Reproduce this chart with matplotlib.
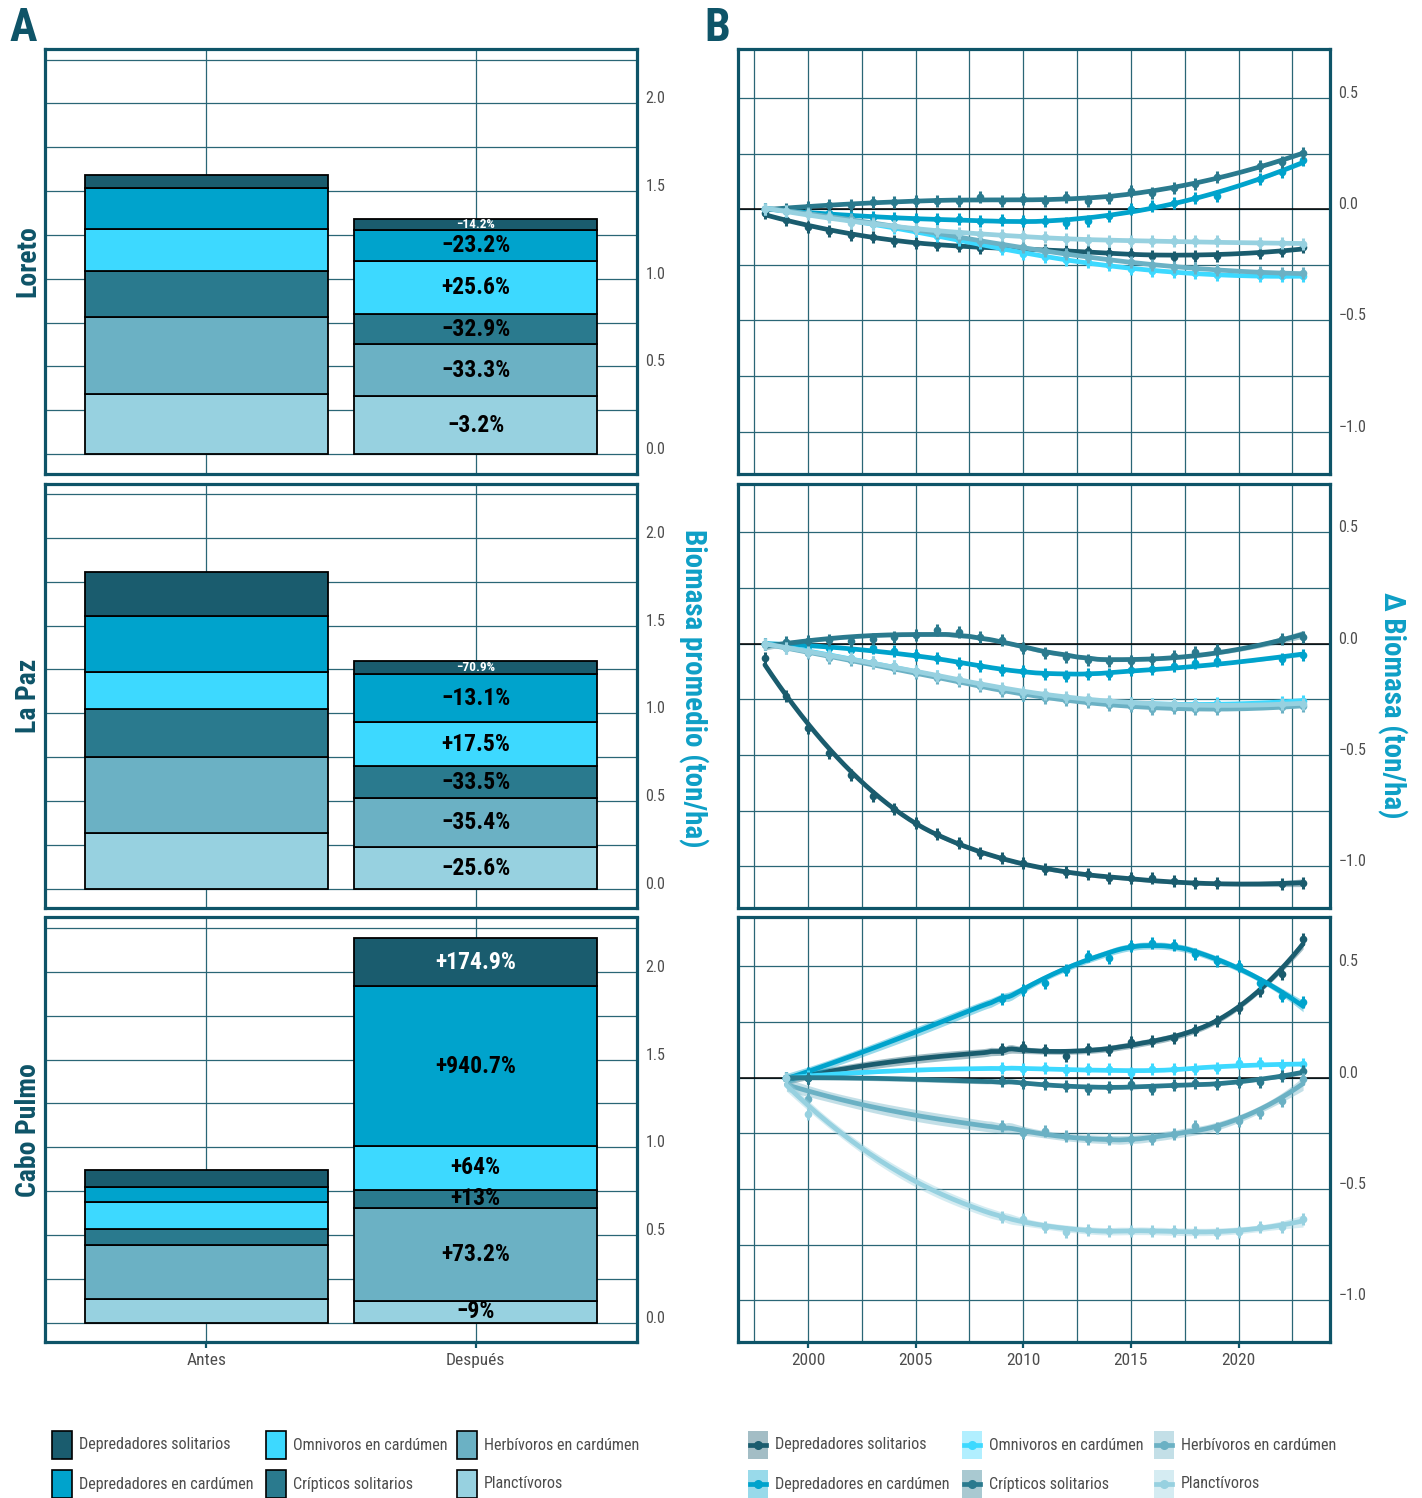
import numpy as np
import matplotlib
matplotlib.use("Agg")
import matplotlib.pyplot as plt
from matplotlib import font_manager as fm
from matplotlib.patches import Rectangle
from matplotlib.lines import Line2D

# ---------------------------------------------------------------- data
groups = ["Depredadores solitarios", "Depredadores en cardúmen",
          "Omnivoros en cardúmen", "Crípticos solitarios",
          "Herbívoros en cardúmen", "Planctívoros"]
colors = ["#1A5C6E", "#00A3CC", "#3DD9FF", "#2A7A8E", "#6BB1C4", "#97D1E0"]
regions = ["Loreto", "La Paz", "Cabo Pulmo"]
periods = ["Antes", "Después"]

# mean biomass before (ton/ha), in the order of `groups`
loreto_antes = [0.074, 0.233, 0.239, 0.261, 0.443, 0.341]
lapaz_antes = [0.254, 0.316, 0.212, 0.273, 0.436, 0.317]
cabo_antes = [0.099, 0.0875, 0.152, 0.092, 0.307, 0.135]

# percent change after, in the order of `groups`
loreto_pct = [-14.2, -23.2, 25.6, -32.9, -33.3, -3.2]
lapaz_pct = [-70.9, -13.1, 17.5, -33.5, -35.4, -25.6]
cabo_pct = [174.9, 940.7, 64, 13, 73.2, -9]

bar_ticks = [0.0, 0.5, 1.0, 1.5, 2.0]
bar_ticklabels = ["0.0", "0.5", "1.0", "1.5", "2.0"]
delta_ticks = [-1.0, -0.5, 0.0, 0.5]
delta_ticklabels = ["\u22121.0", "\u22120.5", "0.0", "0.5"]
year_ticks = [2000, 2005, 2010, 2015, 2020]

# annual change in biomass (ton/ha)
loreto_years = [1998, 1999, 2000, 2001, 2002, 2003, 2004, 2005, 2006, 2007,
                2008, 2009, 2010, 2011, 2012, 2013, 2014, 2015, 2016, 2017,
                2018, 2019, 2021, 2022, 2023]
loreto_dep_sol = [-0.019, -0.048, -0.079, -0.097, -0.115, -0.127, -0.142, -0.150,
                  -0.160, -0.165, -0.175, -0.172, -0.179, -0.184, -0.187,
                  -0.187, -0.195, -0.202, -0.209, -0.217, -0.209, -0.209,
                  -0.199, -0.187, -0.172]
loreto_dep_card = [0.0, -0.007, -0.015, -0.015, -0.030, -0.037, -0.040, -0.045,
                   -0.045, -0.045, -0.052, -0.049, -0.052, -0.052, -0.060,
                   -0.052, -0.030, 0.0, 0.015, 0.030, 0.052, 0.060, 0.135,
                   0.165, 0.220]
loreto_omni = [0.0, -0.007, -0.019, -0.030, -0.052, -0.067, -0.085, -0.100,
               -0.120, -0.138, -0.154, -0.180, -0.202, -0.214, -0.228, -0.239,
               -0.250, -0.269, -0.277, -0.284, -0.289, -0.295, -0.299, -0.302,
               -0.302]
loreto_cript = [0.0, 0.003, 0.012, 0.019, 0.018, 0.033, 0.034, 0.037, 0.037,
                0.037, 0.055, 0.037, 0.045, 0.037, 0.055, 0.037, 0.052, 0.082,
                0.075, 0.097, 0.115, 0.145, 0.194, 0.214, 0.254]
loreto_herb = [0.0, -0.007, -0.019, -0.030, -0.045, -0.060, -0.075, -0.090,
               -0.109, -0.127, -0.142, -0.160, -0.172, -0.187, -0.202, -0.214,
               -0.228, -0.239, -0.250, -0.259, -0.266, -0.274, -0.284, -0.287,
               -0.289]
loreto_planct = [0.0, -0.007, -0.022, -0.037, -0.060, -0.067, -0.075, -0.090,
                 -0.097, -0.105, -0.112, -0.115, -0.120, -0.127, -0.135,
                 -0.139, -0.142, -0.142, -0.142, -0.142, -0.145, -0.145,
                 -0.150, -0.154, -0.157]

lapaz_years = [1998, 1999, 2000, 2001, 2002, 2003, 2004, 2005, 2006, 2007,
               2008, 2009, 2010, 2011, 2012, 2013, 2014, 2015, 2016, 2017,
               2018, 2019, 2022, 2023]
lapaz_dep_sol = [-0.064, -0.236, -0.379, -0.491, -0.592, -0.685, -0.745,
                 -0.805, -0.857, -0.895, -0.940, -0.962, -0.984, -1.014,
                 -1.026, -1.037, -1.052, -1.052, -1.052, -1.067, -1.075,
                 -1.075, -1.082, -1.075]
lapaz_dep_card = [0.0, -0.004, -0.009, -0.019, -0.027, -0.019, -0.034, -0.049,
                  -0.064, -0.087, -0.102, -0.117, -0.124, -0.135, -0.147,
                  -0.135, -0.135, -0.117, -0.114, -0.102, -0.087, -0.079,
                  -0.069, -0.049]
lapaz_omni = [0.0, -0.015, -0.034, -0.052, -0.066, -0.082, -0.100, -0.125,
              -0.147, -0.165, -0.187, -0.207, -0.229, -0.236, -0.245, -0.255,
              -0.262, -0.266, -0.270, -0.270, -0.270, -0.268, -0.262, -0.258]
lapaz_cript = [0.0, 0.006, 0.010, 0.015, 0.010, 0.021, 0.030, 0.040, 0.063,
               0.051, 0.030, 0.015, -0.019, -0.042, -0.060, -0.075, -0.079,
               -0.079, -0.069, -0.054, -0.039, -0.030, 0.021, 0.030]
lapaz_herb = [0.0, -0.019, -0.042, -0.064, -0.072, -0.087, -0.109, -0.132,
              -0.154, -0.169, -0.191, -0.214, -0.229, -0.244, -0.251, -0.263,
              -0.274, -0.281, -0.293, -0.289, -0.293, -0.293, -0.284, -0.281]
lapaz_planct = [0.0, -0.019, -0.036, -0.055, -0.066, -0.082, -0.100, -0.125,
                -0.145, -0.160, -0.180, -0.200, -0.215, -0.228, -0.240,
                -0.250, -0.258, -0.265, -0.270, -0.272, -0.274, -0.274,
                -0.272, -0.270]

cabo_years = [1999, 2000, 2009, 2010, 2011, 2012, 2013, 2014, 2015, 2016,
              2017, 2018, 2019, 2020, 2021, 2022, 2023]
cabo_dep_sol = [0.0, 0.0, 0.127, 0.139, 0.124, 0.097, 0.130, 0.124, 0.160,
                0.165, 0.180, 0.214, 0.254, 0.314, 0.389, 0.464, 0.624]
cabo_dep_card = [0.0, 0.022, 0.352, 0.396, 0.426, 0.486, 0.546, 0.539, 0.591,
                 0.606, 0.598, 0.554, 0.524, 0.501, 0.426, 0.367, 0.340]
cabo_omni = [0.0, 0.007, 0.045, 0.037, 0.045, 0.034, 0.037, 0.037, 0.022,
             0.037, 0.037, 0.040, 0.045, 0.064, 0.064, 0.055, 0.060]
cabo_cript = [0.0, 0.0, -0.015, -0.022, -0.030, -0.037, -0.052, -0.040,
              -0.030, -0.052, -0.034, -0.022, -0.030, -0.019, -0.019, 0.007,
              0.030]
cabo_herb = [0.0, -0.097, -0.217, -0.250, -0.239, -0.262, -0.277, -0.277,
             -0.277, -0.277, -0.254, -0.217, -0.224, -0.194, -0.157, -0.105,
             -0.007]
cabo_planct = [0.0, -0.165, -0.628, -0.636, -0.673, -0.693, -0.684, -0.688,
               -0.688, -0.688, -0.688, -0.693, -0.696, -0.693, -0.673, -0.673,
               -0.636]

antes_by_region = [loreto_antes, lapaz_antes, cabo_antes]
pct_by_region = [loreto_pct, lapaz_pct, cabo_pct]
years_by_region = [loreto_years, lapaz_years, cabo_years]
series_by_region = [
    [loreto_dep_sol, loreto_dep_card, loreto_omni, loreto_cript, loreto_herb, loreto_planct],
    [lapaz_dep_sol, lapaz_dep_card, lapaz_omni, lapaz_cript, lapaz_herb, lapaz_planct],
    [cabo_dep_sol, cabo_dep_card, cabo_omni, cabo_cript, cabo_herb, cabo_planct],
]

# ---------------------------------------------------------------- fonts
_names = {f.name for f in fm.fontManager.ttflist}


def pick(*cands):
    for c in cands:
        if c in _names:
            return c
    return "DejaVu Sans"


NARROW = pick("Liberation Sans Narrow", "Roboto Condensed", "Open Sans Condensed",
              "Liberation Sans")
FAM = [NARROW, "DejaVu Sans"]

TEAL = "#0E5468"
GRID = "#2A6676"
TICKTXT = "#4D4D4D"
TITLE_BLUE = "#0E9FC6"

W, H, DPI = 1422, 1498, 100
fig = plt.figure(figsize=(W / DPI, H / DPI), dpi=DPI)


def fx(px):
    return px / W


def fy(py):
    return 1 - py / H


rows_top = [49.0, 483.5, 917.5]
row_h = 424.5
ax_w = 592.0
left_a, left_b = 45.0, 738.0


def make_ax(left, top):
    ax = fig.add_axes([fx(left), fy(top + row_h), ax_w / W, row_h / H])
    for s in ax.spines.values():
        s.set_color(TEAL)
        s.set_linewidth(2.3)
    ax.set_axisbelow(True)
    ax.yaxis.tick_right()
    ax.tick_params(axis="y", which="both", length=0, pad=6,
                   labelsize=11.5, labelcolor=TICKTXT)
    ax.tick_params(axis="x", which="both", length=0)
    ax.grid(True, which="both", color=GRID, lw=0.9)
    return ax


def loess(x, y, xs, span=0.75):
    """Local quadratic regression with tricube weights; returns fit and se."""
    n = len(x)
    q = int(np.floor(n * span))
    L_rows = []
    for x0 in np.concatenate([x, xs]):
        d = np.abs(x - x0)
        h = np.sort(d)[q - 1] * 1.0001
        w = np.clip(1 - (d / h) ** 3, 0, None) ** 3
        X = np.vstack([np.ones(n), x - x0, (x - x0) ** 2]).T
        A = X.T @ (w[:, None] * X)
        L_rows.append(np.linalg.solve(A, X.T * w)[0])
    L = np.array(L_rows)
    S = L[:n]
    res = y - S @ y
    dof = max(n - np.trace(S), 1.0)
    sigma = np.sqrt(np.sum(res ** 2) / dof)
    Lg = L[n:]
    return Lg @ y, sigma * np.sqrt(np.sum(Lg ** 2, axis=1))


def pct_label(p):
    sign = "+" if p > 0 else "\u2212"
    return f"{sign}{abs(p):g}%"


for r in range(3):
    top = rows_top[r]
    # ---------------- panel A: stacked bars
    ax = make_ax(left_a, top)
    antes = np.array(antes_by_region[r])
    pct = np.array(pct_by_region[r])
    despues = antes * (1 + pct / 100.0)
    for xi, vals in zip([1, 2], [antes, despues]):
        bottom = 0.0
        for k in range(5, -1, -1):
            ax.bar(xi, vals[k], bottom=bottom, width=0.9, color=colors[k],
                   edgecolor="black", linewidth=1.3, zorder=3)
            if xi == 2:
                small = vals[k] < 0.08
                ax.text(xi, bottom + vals[k] / 2, pct_label(pct[k]),
                        ha="center", va="center", family=FAM, weight="bold",
                        fontsize=9.5 if small else 17,
                        color="white" if k == 0 else "black", zorder=4)
            bottom += vals[k]
    ax.set_xlim(0.4, 2.6)
    ax.set_ylim(-0.11, 2.31)
    ax.set_xticks([1, 2])
    ax.set_yticks(bar_ticks)
    ax.set_yticklabels(bar_ticklabels, family=FAM, va="baseline")
    ax.set_yticks(np.arange(0.25, 2.3, 0.5), minor=True)
    if r == 2:
        ax.set_xticklabels(periods, family=FAM)
        ax.tick_params(axis="x", which="major", length=4, width=1.6,
                       color=TEAL, labelsize=12.5, labelcolor=TICKTXT, pad=4)
    else:
        ax.set_xticklabels([])

    fig.text(fx(28), fy(top + row_h / 2), regions[r], rotation=90,
             ha="center", va="center", family=FAM, weight="bold",
             fontsize=20, color=TEAL)

    # ---------------- panel B: smoothed change in biomass
    axb = make_ax(left_b, top)
    axb.axhline(0, color="black", lw=1.1, zorder=1.5)
    yrs = np.array(years_by_region[r], dtype=float)
    xs = np.linspace(yrs.min(), yrs.max(), 150)
    for k, (col, vals) in enumerate(zip(colors, series_by_region[r])):
        y = np.array(vals, dtype=float)
        fit, se = loess(yrs, y, xs)
        z = 2 + k * 0.5
        axb.fill_between(xs, fit - 1.96 * se, fit + 1.96 * se, color=col,
                         alpha=0.4, lw=0, zorder=z)
        axb.plot(xs, fit, color=col, lw=3.4, solid_capstyle="round", zorder=z + 0.1)
        axb.plot(yrs, y, ls="none", marker="o", ms=5.5, mew=0, color=col, zorder=z + 0.2)
        axb.plot(yrs, y, ls="none", marker="|", ms=9, mew=2.2, color=col, zorder=z + 0.2)
    axb.set_xlim(1996.75, 2024.25)
    axb.set_ylim(-1.188, 0.72)
    axb.set_xticks(year_ticks)
    axb.set_xticks(np.arange(1997.5, 2023, 5), minor=True)
    axb.set_yticks(delta_ticks)
    axb.set_yticklabels(delta_ticklabels, family=FAM, va="baseline")
    axb.set_yticks([-0.75, -0.25, 0.25], minor=True)
    if r == 2:
        axb.set_xticklabels([str(v) for v in year_ticks], family=FAM)
        axb.tick_params(axis="x", which="major", length=4, width=1.6,
                        color=TEAL, labelsize=12.5, labelcolor=TICKTXT, pad=4)
    else:
        axb.set_xticklabels([])

# ---------------------------------------------------------------- titles
fig.text(fx(10), fy(28), "A", ha="left", va="center", family=FAM,
         weight="bold", fontsize=33, color=TEAL)
fig.text(fx(704), fy(28), "B", ha="left", va="center", family=FAM,
         weight="bold", fontsize=33, color=TEAL)
fig.text(fx(693), fy(688), "Biomasa promedio (ton/ha)", rotation=-90,
         ha="center", va="center", family=FAM, weight="bold", fontsize=21,
         color=TITLE_BLUE)
fig.text(fx(1392), fy(705), "\u0394 Biomasa (ton/ha)", rotation=-90,
         ha="center", va="center", family=FAM, weight="bold", fontsize=21,
         color=TITLE_BLUE)

# ---------------------------------------------------------------- legends
row_centers = [1445, 1484]
key_w, key_h = 20, 28
legend_a_x = [52, 266, 457]
legend_b_x = [748, 962, 1154]
for k, (name, col) in enumerate(zip(groups, colors)):
    c, rr = divmod(k, 2)
    yc = row_centers[rr]
    # bar legend key
    xa = legend_a_x[c]
    fig.add_artist(Rectangle((fx(xa), fy(yc + key_h / 2)), key_w / W, key_h / H,
                             transform=fig.transFigure, facecolor=col,
                             edgecolor="black", lw=1.2))
    fig.text(fx(xa + key_w + 7), fy(yc), name, ha="left", va="center",
             family=FAM, fontsize=11.6, color=TICKTXT)
    # smooth legend key
    xb = legend_b_x[c]
    fig.add_artist(Rectangle((fx(xb), fy(yc + key_h / 2)), key_w / W, key_h / H,
                             transform=fig.transFigure, facecolor=col,
                             alpha=0.4, lw=0))
    fig.add_artist(Line2D([fx(xb + 2), fx(xb + key_w - 2)], [fy(yc), fy(yc)],
                          transform=fig.transFigure, color=col, lw=3.4))
    fig.add_artist(Line2D([fx(xb + key_w / 2)], [fy(yc)], transform=fig.transFigure,
                          color=col, marker="o", ms=5.5, ls="none"))
    fig.text(fx(xb + key_w + 7), fy(yc), name, ha="left", va="center",
             family=FAM, fontsize=11.6, color=TICKTXT)

fig.savefig("out.png", dpi=DPI, facecolor="white")
